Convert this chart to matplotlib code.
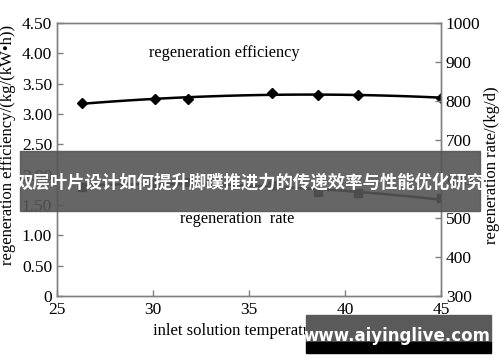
import numpy as np
import matplotlib
matplotlib.use("Agg")
import matplotlib.pyplot as plt
from matplotlib.patches import Rectangle

# ---------------- DATA ----------------
temp = [26.3, 30.1, 31.8, 36.2, 38.6, 40.7, 45.0]
efficiency = [3.18, 3.25, 3.25, 3.35, 3.32, 3.31, 3.27]
rate = [580, 590, 592, 585, 566, 564, 551]

x_ticks = [25, 30, 35, 40, 45]
left_ticks = [0, 0.5, 1.0, 1.5, 2.0, 2.5, 3.0, 3.5, 4.0, 4.5]
left_labels = ["0", "0.50", "1.00", "1.50", "2.00", "2.50", "3.00", "3.50", "4.00", "4.50"]
right_ticks = [300, 400, 500, 600, 700, 800, 900, 1000]

banner_text = "双层叶片设计如何提升脚蹼推进力的传递效率与性能优化研究"
watermark = "www.aiyinglive.com"

plt.rcParams['font.family'] = ['Liberation Serif', 'DejaVu Serif']

fig = plt.figure(figsize=(5, 3.62), dpi=100)
ax = fig.add_axes([0.114, 0.182, 0.768, 0.754])
ax2 = ax.twinx()

gray = "#808080"
for a in (ax, ax2):
    for s in a.spines.values():
        s.set_color(gray)
        s.set_linewidth(1.0)
    a.tick_params(direction="in", length=4, color=gray, labelsize=12.5, width=1)

# fitted curves through the points
xs = np.linspace(min(temp), max(temp), 100)
ax.plot(xs, np.polyval(np.polyfit(temp, efficiency, 2), xs), color="black", lw=1.8)
ax.plot(temp, efficiency, "D", color="black", ms=5.5)
ax2.plot(xs, np.polyval(np.polyfit(temp, rate, 2), xs), color="black", lw=1.8)
ax2.plot(temp, rate, "s", color="black", ms=5.5)

ax.set_xlim(25, 45)
ax.set_ylim(0, 4.5)
ax2.set_ylim(300, 1000)
ax.set_xticks(x_ticks)
ax.set_yticks(left_ticks)
ax.set_yticklabels(left_labels)
ax2.set_yticks(right_ticks)
ax.tick_params(axis="x", pad=4)

ax.text(33.7, 4.0, "regeneration efficiency", fontsize=11.8, ha="center", va="center")
ax.text(34.4, 1.27, "regeneration  rate", fontsize=11.8, ha="center", va="center")

fig.text(0.016, 0.60, "regeneration efficiency/(kg/(kW\u2022h))", rotation=90,
         fontsize=12, ha="center", va="center")
fig.text(0.985, 0.545, "regeneration rate/(kg/d)", rotation=90,
         fontsize=12, ha="center", va="center")
fig.text(0.5, 0.086, "inlet solution temperature/\u2103", fontsize=12,
         ha="center", va="center", family=['Liberation Serif', 'DejaVu Sans'])

# overlay banner
fig.patches.append(Rectangle((20 / 500, 1 - 211 / 362), 460 / 500, 60 / 362,
                             transform=fig.transFigure, color="#555555", alpha=0.9, zorder=5))
fig.text(0.5, 1 - 183 / 362, banner_text, color="white", fontsize=12.5, weight="bold",
         ha="center", va="center", family=['Noto Sans CJK SC', 'DejaVu Sans'], zorder=6)

# watermark
fig.patches.append(Rectangle((306 / 500, 1 - 342 / 362), 185 / 500, 27 / 362,
                             transform=fig.transFigure, color="#5a5a5a", zorder=5))
fig.patches.append(Rectangle((306 / 500, 1 - 353 / 362), 185 / 500, 11 / 362,
                             transform=fig.transFigure, color="black", zorder=5))
fig.text(397 / 500, 1 - 336 / 362, watermark, color="white", fontsize=12, weight="bold",
         ha="center", va="center", family=['DejaVu Sans'], zorder=6)

fig.savefig("out.png", dpi=100)
